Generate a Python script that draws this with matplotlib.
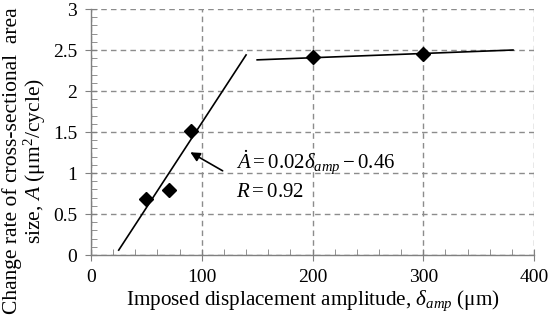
import numpy as np
import matplotlib
matplotlib.use('Agg')
from matplotlib import pyplot as plt
from matplotlib.ticker import MultipleLocator, FormatStrFormatter

plt.rcParams['font.family'] = ['Liberation Serif', 'DejaVu Serif']
plt.rcParams['mathtext.fontset'] = 'custom'
plt.rcParams['mathtext.rm'] = 'Liberation Serif'
plt.rcParams['mathtext.it'] = 'Liberation Serif:italic'

# measured points
amp = [50, 70, 90, 200, 300]
rate = [0.68, 0.79, 1.51, 2.41, 2.45]

# fitted lines (endpoints)
fit1_x = [25, 140]
fit1_y = [0.06, 2.44]
fit2_x = [150, 381]
fit2_y = [2.38, 2.50]

fig = plt.figure(figsize=(5.5, 3.22), dpi=100)
ax = fig.add_axes([0.1655, 0.208, 0.8055, 0.764])

ax.plot(fit1_x, fit1_y, color='black', lw=1.2)
ax.plot(fit2_x, fit2_y, color='black', lw=1.2)
ax.plot(amp, rate, 'D', color='black', markersize=7, zorder=3)

ax.set_xlim(0, 400)
ax.set_ylim(0, 3)
ax.xaxis.set_major_locator(MultipleLocator(100))
ax.xaxis.set_minor_locator(MultipleLocator(20))
ax.yaxis.set_major_locator(MultipleLocator(0.5))
ax.yaxis.set_minor_locator(MultipleLocator(0.1))
ax.yaxis.set_major_formatter(FormatStrFormatter('%g'))

ax.grid(True, which='major', color='#8c8c8c', linestyle=(0, (4, 3)), lw=1)
ax.set_axisbelow(True)
for s in ['top', 'right']:
    ax.spines[s].set_visible(False)
for s in ['left', 'bottom']:
    ax.spines[s].set_color('#808080')
    ax.spines[s].set_linewidth(1)
ax.tick_params(which='major', direction='inout', length=8, color='#808080',
               labelsize=14, pad=6)
ax.tick_params(which='minor', direction='in', length=4, color='#808080')

ax.set_xlabel(r'Imposed displacement amplitude, $\delta_{amp}$ ($\mathrm{\mu}$m)',
              fontsize=15.2, labelpad=2)
fig.text(25 / 550, 0.5,
         'Change rate of cross-sectional  area\nsize, $A$ ($\\mathrm{\\mu}$m$^2$/cycle)',
         rotation=90, fontsize=15.5, ha='center', va='center',
         multialignment='center', linespacing=1.0)

ax.annotate('', xy=(87.5, 1.27), xytext=(121, 1.01),
            arrowprops=dict(arrowstyle='-|>', color='black', lw=1.2,
                            mutation_scale=14))
ax.text(131, 1.12, r'$\dot{A} = 0.02\delta_{amp} - 0.46$', fontsize=15,
        va='center', ha='left')
ax.text(131, 0.76, r'$R = 0.92$', fontsize=15, va='center', ha='left')

fig.savefig('out.png', dpi=100)
